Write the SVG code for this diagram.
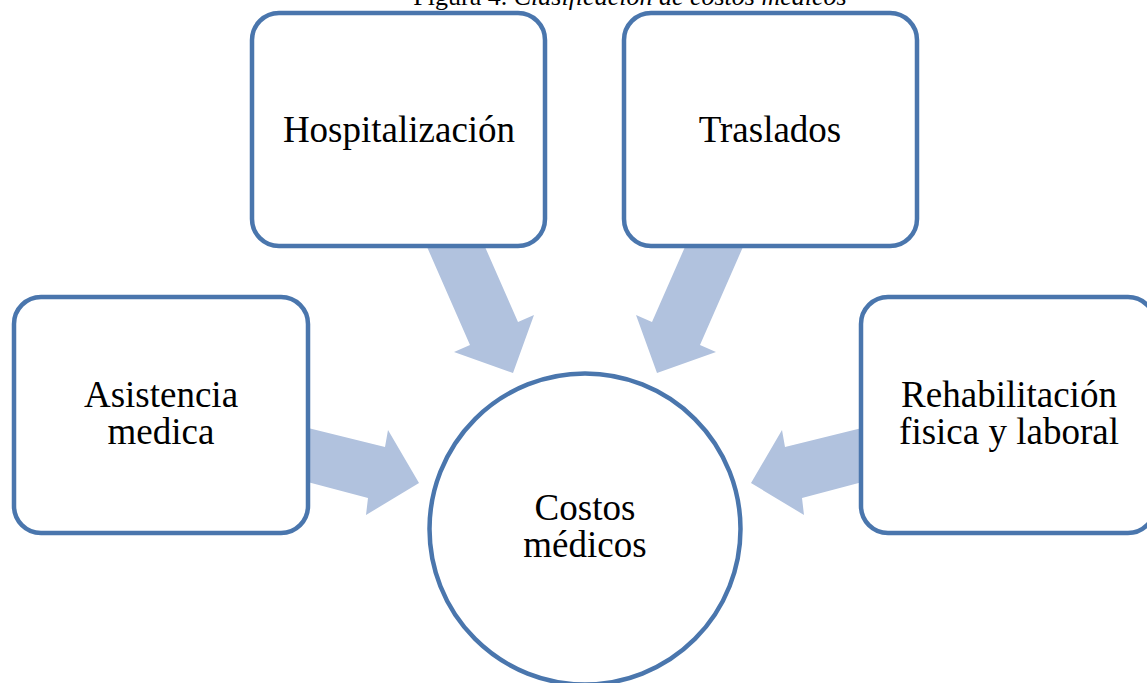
<svg xmlns="http://www.w3.org/2000/svg" width="1147" height="683" viewBox="0 0 1147 683">
<style>
.box{fill:#fff;stroke:#4a76ad;stroke-width:4.5}
.arr{fill:#b1c2de}
.t{font-family:"Liberation Serif","Times New Roman",serif;font-size:37px;fill:#000;text-anchor:middle}
.title{font-family:"Liberation Serif","Times New Roman",serif;font-size:26px;fill:#000;text-anchor:middle}
</style>
<rect width="1147" height="683" fill="#fff"/>
<text class="title" x="630" y="5">Figura 4. <tspan font-style="italic">Clasificación de costos médicos</tspan></text>
<g id="connectors">
<polygon class="arr" points="300,426 385,447 388,430 419,483 366,515 368,498 300,480"/>
<polygon class="arr" points="870,426 785,447 782,430 751,483 804,515 802,498 870,480"/>
<polygon class="arr" points="424,240 470,345 454,352 513,373 534,315 518,322 482,240"/>
<polygon class="arr" points="746,240 700,345 716,352 657,373 636,315 652,322 688,240"/>
</g>
<g id="hospitalizacion">
<rect class="box" x="252" y="13" width="293" height="233" rx="27"/>
<text class="t" x="399" y="142">Hospitalización</text>
</g>
<g id="traslados">
<rect class="box" x="624" y="13" width="293" height="233" rx="27"/>
<text class="t" x="770" y="142">Traslados</text>
</g>
<g id="asistencia">
<rect class="box" x="14" y="297" width="294" height="236" rx="27"/>
<text class="t" x="161" y="407">Asistencia</text>
<text class="t" x="161" y="444">medica</text>
</g>
<g id="rehabilitacion">
<rect class="box" x="861" y="297" width="294" height="236" rx="27"/>
<text class="t" x="1009" y="407">Rehabilitación</text>
<text class="t" x="1009" y="444">fisica y laboral</text>
</g>
<g id="costos">
<circle class="box" cx="585" cy="529" r="155.5"/>
<text class="t" x="585" y="520">Costos</text>
<text class="t" x="585" y="557">médicos</text>
</g>
</svg>
